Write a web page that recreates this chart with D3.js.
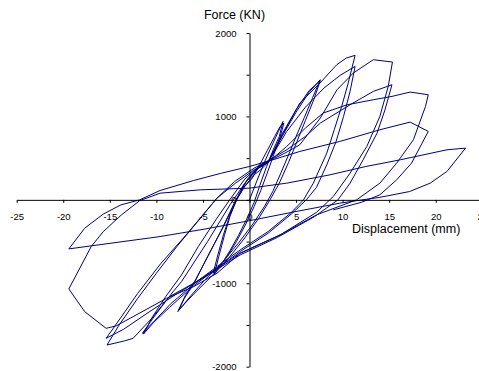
<!DOCTYPE html>
<html><head><meta charset="utf-8">
<script src="https://cdn.jsdelivr.net/npm/d3@7"></script>
<style>
html,body{margin:0;padding:0;background:#fff;}
svg{display:block;font-family:Arial,"Liberation Sans",sans-serif;}
</style></head>
<body><svg id="c" width="479" height="371"></svg>
<script>
// Tick values
const xTicks = [-25,-20,-15,-10,-5,0,5,10,15,20,25];
const yTicks = [-2000,-1500,-1000,-500,0,500,1000,1500,2000];
const yLabels = [-2000,-1000,0,1000,2000];

// Hysteresis cycles: [displacement (mm), force (KN)]
const cycle1 = [[0,0],[0.8,230],[1.6,450],[2.4,650],[3.1,820],[3.6,940],[3.2,760],[2.55,600],[1.84,400],[1.1,170],[0.5,-30],[-0.3,-230],[-1.2,-430],[-2.1,-610],[-3,-770],[-3.8,-900],[-3.3,-680],[-2.7,-430],[-2.1,-200],[-1.4,0],[-0.6,150],[0.3,260]];
const cycle2 = [[0.3,260],[1.1,420],[1.9,590],[2.7,760],[3.3,880],[3.7,920],[3.25,740],[2.6,540],[1.9,320],[1.2,110],[0.5,-80],[-0.4,-290],[-1.4,-500],[-2.4,-680],[-3.2,-800],[-3.9,-880],[-3.4,-660],[-2.8,-420],[-2.1,-180],[-1.3,20],[-0.4,180],[0.5,300]];
const cycle3 = [[0.5,300],[1.2,360],[2,450],[3.5,760],[5,1050],[6.4,1290],[7.6,1440],[6.8,1230],[5.9,990],[5,760],[4.35,580],[3.4,330],[2.5,100],[1.6,-80],[0.3,-300],[-1.2,-520],[-3,-760],[-4.8,-960],[-6.3,-1150],[-7.7,-1340],[-7,-1180],[-6,-1010],[-4.5,-680],[-3,-360],[-1.6,-30],[-0.5,200],[0.8,370],[2,450]];
const cycle4 = [[2,450],[3.5,790],[5,1080],[6.4,1310],[7.6,1430],[6.9,1200],[6,950],[5.1,700],[4.2,450],[3.2,200],[2.2,0],[1,-220],[-0.6,-470],[-2.4,-720],[-4.2,-930],[-6,-1130],[-7.6,-1320],[-6.9,-1150],[-5.8,-960],[-4.3,-640],[-2.8,-320],[-1.4,0],[-0.2,250],[1,400],[2,460]];
const cycle5 = [[2,460],[3.5,770],[5.4,1160],[7.57,1400],[9.37,1620],[10.4,1700],[11.34,1732],[10.6,1400],[9.9,1120],[9.1,840],[8.3,560],[6.85,200],[5.8,0],[4.5,-150],[2,-380],[-1,-600],[-3.5,-800],[-6,-1010],[-8.5,-1250],[-10.2,-1450],[-11.5,-1600],[-10.5,-1440],[-9.3,-1260],[-8.2,-1100],[-7.3,-980],[-4.5,-500],[-2.1,-60],[-0.5,200],[1,380],[2,450]];
const cycle6 = [[2,450],[4,820],[6,1110],[8,1340],[9.7,1490],[11.34,1600],[10.8,1300],[10.1,1000],[9.3,700],[8.3,420],[7.2,150],[6.1,0],[4.5,-170],[2,-400],[-1,-620],[-3.6,-830],[-6,-1030],[-8.6,-1290],[-10.3,-1470],[-11.4,-1610],[-10.4,-1400],[-9,-1160],[-7.3,-900],[-5.5,-560],[-3.5,-220],[-2,20],[-0.5,250],[1,400],[2,460]];
const cycle7 = [[2,460],[3.8,560],[5.4,660],[7.6,980],[9.4,1320],[11.15,1520],[13.3,1680],[15.35,1652],[14.9,1360],[14,1000],[12.6,640],[10.8,320],[9,40],[7.2,-150],[3.3,-420],[-1,-640],[-3.5,-820],[-6,-1000],[-8.6,-1160],[-10.5,-1420],[-12.5,-1660],[-13.4,-1690],[-15.3,-1740],[-14,-1500],[-12,-1180],[-10,-880],[-7.8,-560],[-5.5,-250],[-3.5,20],[-1.6,220],[0.5,380],[2,470]];
const cycle8 = [[2,470],[4,600],[6,760],[7.6,920],[10.8,1140],[13.3,1300],[15.3,1380],[14.55,1080],[13.7,800],[12.2,480],[10.8,200],[9.5,0],[7,-200],[3,-450],[-1,-660],[-4,-870],[-8,-1140],[-11,-1360],[-13.5,-1550],[-15.4,-1660],[-14.5,-1520],[-12,-1120],[-9.5,-760],[-6.8,-420],[-5,-180],[-3.5,20],[-1.5,200],[0.5,360],[2,450]];
const cycle9 = [[2,450],[4,640],[6,860],[7.9,1040],[10.5,1140],[13.3,1200],[15.3,1240],[17.25,1292],[19.2,1260],[18.9,1120],[17.6,720],[15.8,440],[14,200],[11.5,0],[7.2,-180],[3.3,-420],[-1,-640],[-3.5,-880],[-6,-1040],[-8.9,-1180],[-12.5,-1400],[-14.3,-1510],[-15.4,-1540],[-17.7,-1340],[-19.4,-1068],[-17,-560],[-15.7,-380],[-13.75,-180],[-11.8,-10],[-9.6,80],[-5.3,120],[0,140]];
const cycle10 = [[0,140],[4,200],[8.65,300],[12.5,400],[16.2,480],[21.2,600],[23.2,620],[21.2,340],[19.4,200],[17.2,100],[14,30],[11.5,-10],[9.7,-40],[5,-140],[0,-250],[-4.8,-350],[-9.6,-440],[-19.4,-588]];
const cycle11 = [[-19.4,-588],[-17.7,-340],[-15.7,-170],[-13.8,-60],[-11.8,0],[-9.6,112],[-6,232],[-3,320],[0,400],[2.5,480],[5.4,580],[9.7,700],[14,840],[17.25,932],[19.2,820],[17.4,440],[15.8,240],[14,60],[12,-30],[9,-120]];
const cycles = [cycle1,cycle2,cycle3,cycle4,cycle5,cycle6,cycle7,cycle8,cycle9,cycle10,cycle11];

const svg = d3.select('#c');
const x = d3.scaleLinear().domain([-25,25]).range([16.7,482.3]);
const y = d3.scaleLinear().domain([-2000,2000]).range([366.7,33]);

// Data lines
const line = d3.line().x(d=>x(d[0])).y(d=>y(d[1]));
svg.append('g').selectAll('path').data(cycles).join('path')
  .attr('d', line).attr('fill','none').attr('stroke','#000080').attr('stroke-width',1)
  .attr('stroke-linejoin','miter');

// X axis
const xAxis = d3.axisBottom(x).tickValues(xTicks).tickSize(3).tickSizeOuter(0).tickPadding(10).tickFormat(d=>d);
const gx = svg.append('g').attr('transform',`translate(0,${y(0)})`).call(xAxis);
gx.selectAll('text').attr('font-size','9.5px').attr('fill','#000').attr('font-family','Arial, Liberation Sans, sans-serif');
gx.selectAll('line,path').attr('stroke','#000');

// Y axis
const yAxis = d3.axisLeft(y).tickValues(yTicks).tickSize(3).tickSizeOuter(0).tickPadding(10)
  .tickFormat(d=> yLabels.includes(d) ? d : '');
const gy = svg.append('g').attr('transform',`translate(${x(0)},0)`).call(yAxis);
gy.selectAll('text').attr('font-size','9.5px').attr('fill','#000').attr('font-family','Arial, Liberation Sans, sans-serif');
gy.selectAll('line,path').attr('stroke','#000');

// Titles
svg.append('text').attr('x',234.5).attr('y',19).attr('text-anchor','middle')
  .attr('font-size','12.5px').attr('fill','#000').text('Force (KN)');
svg.append('text').attr('x',352).attr('y',232.5).attr('text-anchor','start')
  .attr('font-size','12.5px').attr('fill','#000').text('Displacement (mm)');
</script></body></html>
